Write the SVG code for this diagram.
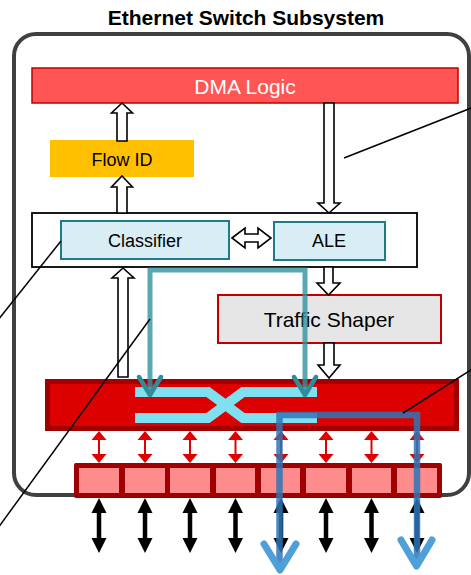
<svg xmlns="http://www.w3.org/2000/svg" width="471" height="575" viewBox="0 0 471 575">
  <defs>
    <style>
      .lbl { font-family: "Liberation Sans", Arial, sans-serif; text-anchor: middle; }
      .hollow { fill: #ffffff; stroke: #000000; stroke-width: 1.6; stroke-linejoin: miter; }
      .callout { stroke: #000000; stroke-width: 1.5; fill: none; }
      .cell { fill: #ff8c8c; }
      .port-link { fill: #e00000; }
      .port-link-shaft { stroke: #e00000; stroke-width: 2; }
      .ext-link { fill: #000000; }
      .ext-link-shaft { stroke: #000000; stroke-width: 4.5; }
      .lane { fill: none; stroke: #7fe0f0; stroke-width: 10; stroke-linejoin: miter; }
      .rx-path { fill: none; stroke: #31929f; stroke-width: 5; stroke-opacity: 0.8; }
      .rx-head { fill: none; stroke: #2f8c9b; stroke-width: 4.5; stroke-linecap: round; stroke-linejoin: round; }
      .tx-path { fill: none; stroke: #2e75b6; stroke-width: 6.5; stroke-opacity: 0.85; }
      .tx-head { fill: none; stroke: #4f9fd8; stroke-width: 7; stroke-linecap: round; stroke-linejoin: round; }
    </style>
  </defs>

  <rect width="471" height="575" fill="#ffffff"/>

  <!-- title -->
  <text class="lbl" x="246" y="25" font-size="21" font-weight="bold" fill="#000000">Ethernet Switch Subsystem</text>

  <!-- subsystem boundary -->
  <rect id="subsystem" x="14" y="34" width="455" height="461" rx="22" ry="22" fill="none" stroke="#404040" stroke-width="4"/>

  <g id="dma-logic">
    <rect x="32" y="68" width="426" height="35" fill="#ff5555" stroke="#c00000" stroke-width="1.5"/>
    <text class="lbl" x="245" y="94" font-size="21" fill="#ffffff">DMA Logic</text>
  </g>

  <g id="flow-id">
    <rect x="50" y="140" width="144" height="37" fill="#ffc000"/>
    <text class="lbl" x="122" y="166" font-size="18" fill="#000000">Flow ID</text>
  </g>

  <g id="classification">
    <rect x="32" y="213" width="385" height="54" fill="#ffffff" stroke="#000000" stroke-width="1.8"/>
  </g>

  <g id="classifier">
    <rect x="61" y="221" width="168" height="38" fill="#d9eef4" stroke="#1f7a8c" stroke-width="2"/>
    <text class="lbl" x="145" y="247" font-size="18" fill="#000000">Classifier</text>
  </g>

  <g id="ale">
    <rect x="274" y="222" width="111" height="38" fill="#d9eef4" stroke="#1f7a8c" stroke-width="2"/>
    <text class="lbl" x="329" y="247" font-size="18" fill="#000000">ALE</text>
  </g>

  <g id="traffic-shaper">
    <rect x="218" y="295" width="223" height="48" fill="#e6e6e6" stroke="#c00000" stroke-width="2"/>
    <text class="lbl" x="329" y="327" font-size="21" fill="#000000">Traffic Shaper</text>
  </g>

  <g id="switch-fabric">
    <rect x="47.5" y="381.5" width="409" height="47" fill="#dd0000" stroke="#a00000" stroke-width="5"/>
    <path class="lane" d="M135,392 H208 L243,418 H317"/>
    <path class="lane" d="M135,418 H208 L243,392 H317"/>
  </g>

  <g id="ports">
    <rect x="74" y="463" width="368" height="35" rx="2" fill="#a00000"/>
    <rect class="cell" x="79" y="468" width="40" height="25"/>
    <rect class="cell" x="125" y="468" width="40" height="25"/>
    <rect class="cell" x="170" y="468" width="40" height="25"/>
    <rect class="cell" x="216" y="468" width="39" height="25"/>
    <rect class="cell" x="261" y="468" width="39" height="25"/>
    <rect class="cell" x="306" y="468" width="40" height="25"/>
    <rect class="cell" x="352" y="468" width="39" height="25"/>
    <rect class="cell" x="397" y="468" width="40" height="25"/>
  </g>

  <g id="connectors">
    <!-- block arrows between the processing stages -->
    <polygon class="hollow" points="122,103 132.5,113 127,113 127,141 117,141 117,113 111.5,113"/>
    <polygon class="hollow" points="122,176 132.5,187 127,187 127,213 117,213 117,187 111.5,187"/>
    <polygon class="hollow" points="324,103 334,103 334,203 340,203 329,213 318,203 324,203"/>
    <polygon class="hollow" points="123,268 134,278 128,278 128,377 118,377 118,278 112,278"/>
    <polygon class="hollow" points="324,267 333,267 333,283 340,283 328.5,295 317,283 324,283"/>
    <polygon class="hollow" points="324,343 334,343 334,365 340,365 329,378 318,365 324,365"/>
    <polygon class="hollow" points="232,238 245,228 245,234 258,234 258,228 271,238 258,248 258,242 245,242 245,248"/>

    <!-- fabric to port links -->
    <g id="port-links">
      <g transform="translate(99,0)">
        <line class="port-link-shaft" x1="0" y1="438" x2="0" y2="456"/>
        <polygon class="port-link" points="0,431 7.5,440 -7.5,440"/>
        <polygon class="port-link" points="0,463 7.5,454 -7.5,454"/>
      </g>
      <g transform="translate(145,0)">
        <line class="port-link-shaft" x1="0" y1="438" x2="0" y2="456"/>
        <polygon class="port-link" points="0,431 7.5,440 -7.5,440"/>
        <polygon class="port-link" points="0,463 7.5,454 -7.5,454"/>
      </g>
      <g transform="translate(190,0)">
        <line class="port-link-shaft" x1="0" y1="438" x2="0" y2="456"/>
        <polygon class="port-link" points="0,431 7.5,440 -7.5,440"/>
        <polygon class="port-link" points="0,463 7.5,454 -7.5,454"/>
      </g>
      <g transform="translate(235.5,0)">
        <line class="port-link-shaft" x1="0" y1="438" x2="0" y2="456"/>
        <polygon class="port-link" points="0,431 7.5,440 -7.5,440"/>
        <polygon class="port-link" points="0,463 7.5,454 -7.5,454"/>
      </g>
      <g transform="translate(281,0)">
        <line class="port-link-shaft" x1="0" y1="438" x2="0" y2="456"/>
        <polygon class="port-link" points="0,431 7.5,440 -7.5,440"/>
        <polygon class="port-link" points="0,463 7.5,454 -7.5,454"/>
      </g>
      <g transform="translate(326,0)">
        <line class="port-link-shaft" x1="0" y1="438" x2="0" y2="456"/>
        <polygon class="port-link" points="0,431 7.5,440 -7.5,440"/>
        <polygon class="port-link" points="0,463 7.5,454 -7.5,454"/>
      </g>
      <g transform="translate(371.5,0)">
        <line class="port-link-shaft" x1="0" y1="438" x2="0" y2="456"/>
        <polygon class="port-link" points="0,431 7.5,440 -7.5,440"/>
        <polygon class="port-link" points="0,463 7.5,454 -7.5,454"/>
      </g>
      <g transform="translate(417,0)">
        <line class="port-link-shaft" x1="0" y1="438" x2="0" y2="456"/>
        <polygon class="port-link" points="0,431 7.5,440 -7.5,440"/>
        <polygon class="port-link" points="0,463 7.5,454 -7.5,454"/>
      </g>
    </g>

    <!-- external port links -->
    <g id="ext-links">
      <g transform="translate(99,0)">
        <line class="ext-link-shaft" x1="0" y1="510" x2="0" y2="540"/>
        <polygon class="ext-link" points="0,498 7.5,513 -7.5,513"/>
        <polygon class="ext-link" points="0,553 7.5,538 -7.5,538"/>
      </g>
      <g transform="translate(145,0)">
        <line class="ext-link-shaft" x1="0" y1="510" x2="0" y2="540"/>
        <polygon class="ext-link" points="0,498 7.5,513 -7.5,513"/>
        <polygon class="ext-link" points="0,553 7.5,538 -7.5,538"/>
      </g>
      <g transform="translate(190,0)">
        <line class="ext-link-shaft" x1="0" y1="510" x2="0" y2="540"/>
        <polygon class="ext-link" points="0,498 7.5,513 -7.5,513"/>
        <polygon class="ext-link" points="0,553 7.5,538 -7.5,538"/>
      </g>
      <g transform="translate(235.5,0)">
        <line class="ext-link-shaft" x1="0" y1="510" x2="0" y2="540"/>
        <polygon class="ext-link" points="0,498 7.5,513 -7.5,513"/>
        <polygon class="ext-link" points="0,553 7.5,538 -7.5,538"/>
      </g>
      <g transform="translate(281,0)">
        <line class="ext-link-shaft" x1="0" y1="510" x2="0" y2="540"/>
        <polygon class="ext-link" points="0,498 7.5,513 -7.5,513"/>
        <polygon class="ext-link" points="0,553 7.5,538 -7.5,538"/>
      </g>
      <g transform="translate(326,0)">
        <line class="ext-link-shaft" x1="0" y1="510" x2="0" y2="540"/>
        <polygon class="ext-link" points="0,498 7.5,513 -7.5,513"/>
        <polygon class="ext-link" points="0,553 7.5,538 -7.5,538"/>
      </g>
      <g transform="translate(371.5,0)">
        <line class="ext-link-shaft" x1="0" y1="510" x2="0" y2="540"/>
        <polygon class="ext-link" points="0,498 7.5,513 -7.5,513"/>
        <polygon class="ext-link" points="0,553 7.5,538 -7.5,538"/>
      </g>
      <g transform="translate(417,0)">
        <line class="ext-link-shaft" x1="0" y1="510" x2="0" y2="540"/>
        <polygon class="ext-link" points="0,498 7.5,513 -7.5,513"/>
        <polygon class="ext-link" points="0,553 7.5,538 -7.5,538"/>
      </g>
    </g>

    <!-- receive path: classifier output into the fabric -->
    <path class="rx-path" d="M150,393 V270 H305 V393"/>
    <polyline class="rx-head" points="139,377 150,395 161,377"/>
    <polyline class="rx-head" points="294,377 305,395 316,377"/>

    <!-- transmit path: fabric out to two ports -->
    <path class="tx-path" d="M279.5,566 V415 H417 V562"/>
    <polyline class="tx-head" points="264,544 280,570 296,544"/>
    <polyline class="tx-head" points="401,540 416.5,566 432,540"/>

    <!-- callout leaders -->
    <line class="callout" x1="344" y1="158" x2="474" y2="107"/>
    <line class="callout" x1="61" y1="241" x2="-2" y2="320"/>
    <line class="callout" x1="150" y1="319" x2="-2" y2="528"/>
    <line class="callout" x1="403" y1="413" x2="474" y2="368"/>
  </g>
</svg>
